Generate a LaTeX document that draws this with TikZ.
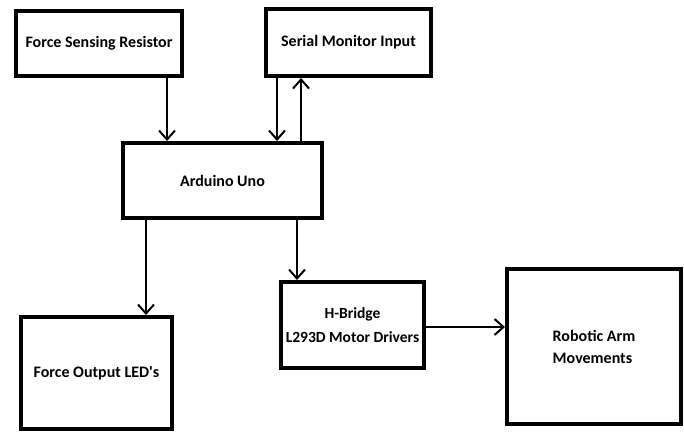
\documentclass[tikz,border=0pt]{standalone}
\usepackage{fontspec}
\setmainfont{Carlito}
\usetikzlibrary{arrows.meta}
\begin{document}
\begin{tikzpicture}[x=1pt,y=-1pt,
  box/.style={draw=black, line width=4pt, fill=white, inner sep=0pt, align=center,
    font=\fontsize{16}{22}\selectfont\bfseries},
  arr/.style={line width=2pt, -{Straight Barb[length=9pt,width=16pt,line width=2pt]}}]
\fill[white] (0,0) rectangle (684,432);
\useasboundingbox (0,0) rectangle (684,432);
\node[box, minimum width=166pt, minimum height=65pt] (fsr) at (99,43.5) {Force Sensing Resistor};
\node[box, minimum width=165pt, minimum height=67pt] (ser) at (348.5,42.5) {Serial Monitor Input};
\node[box, minimum width=199pt, minimum height=75pt] (ard) at (222.5,180.5) {Arduino Uno};
\node[box, minimum width=151pt, minimum height=112pt] (led) at (96.5,373) {Force Output LED\textquotesingle s};
\node[box, minimum width=143pt, minimum height=86pt, font=\fontsize{15.5}{24}\selectfont\bfseries] (hb) at (352.5,325) {H-Bridge\\L293D Motor Drivers};
\node[box, minimum width=174pt, minimum height=155pt, align=left] (rob) at (594,346.5) {Robotic Arm\\Movements};
\coordinate (xa) at (167,0);
\coordinate (xb) at (277,0);
\coordinate (xc) at (301,0);
\coordinate (xd) at (146,0);
\coordinate (xe) at (297,0);
\coordinate (ya) at (0,327);
\draw[arr] (xa |- fsr.south) -- (xa |- ard.north);
\draw[arr] (xb |- ser.south) -- (xb |- ard.north);
\draw[arr] (xc |- ard.north) -- (xc |- ser.south);
\draw[arr] (xd |- ard.south) -- (xd |- led.north);
\draw[arr] (xe |- ard.south) -- (xe |- hb.north);
\draw[arr] (hb.east |- ya) -- (rob.west |- ya);
\end{tikzpicture}
\end{document}
